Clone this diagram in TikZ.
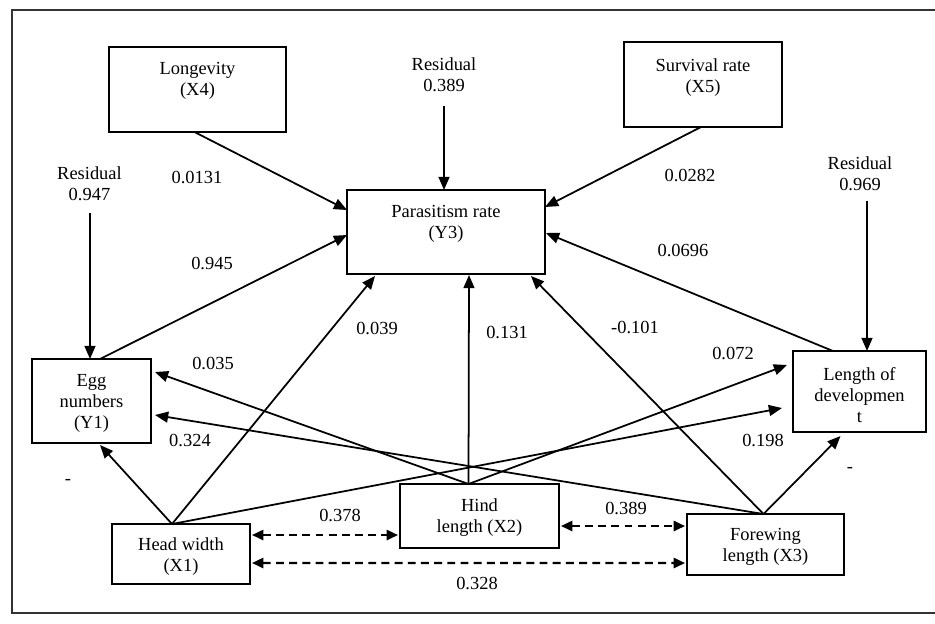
\documentclass[tikz,border=0pt]{standalone}
\usepackage{fontspec}
\setmainfont{Liberation Serif}
\usetikzlibrary{arrows.meta,calc}
\begin{document}
\begin{tikzpicture}[x=0.02cm,y=-0.02cm,
  box/.style={draw,line width=1pt,inner sep=0pt,outer sep=0pt},
  txt/.style={align=center,font=\fontsize{10.5}{12}\selectfont,inner sep=0pt},
  lbl/.style={font=\fontsize{10.5}{12}\selectfont,inner sep=0pt},
  arr/.style={line width=1pt,-{Triangle[length=7.5pt,width=6.2pt]}},
  darr/.style={line width=1.3pt,dash pattern=on 4.5pt off 3pt,{Triangle[length=6.5pt,width=5.8pt]}-{Triangle[length=6.5pt,width=5.8pt]}},
  frame/.style={line width=1.2pt,draw=black!80}]
\useasboundingbox (0,0) rectangle (935,623);
\draw[frame] (935,10) -- (12,10) -- (12,613) -- (935,613);

% boxes
\node[box,minimum width=3.54cm,minimum height=1.70cm] (x4) at (197.5,89.5) {};
\node[txt] (x4t) at (197.5,81) {Longevity\\(X4)};
\node[box,minimum width=3.16cm,minimum height=1.70cm] (x5) at (703,84.5) {};
\node[txt] (x5t) at (703,77.5) {Survival rate\\(X5)};
\node[box,minimum width=3.96cm,minimum height=1.68cm] (y3) at (446,232) {};
\node[txt] (y3t) at (446,223.5) {Parasitism rate\\(Y3)};
\node[box,minimum width=2.38cm,minimum height=1.68cm] (y1) at (91.5,401) {};
\node[txt] (y1t) at (91.5,403) {Egg\\numbers\\(Y1)};
\node[box,minimum width=2.66cm,minimum height=1.62cm] (y2) at (859.5,391.5) {};
\node[txt] (y2t) at (859.5,395) {Length of\\developmen\\t};
\node[box,minimum width=2.76cm,minimum height=1.20cm] (x1) at (181,554) {};
\node[txt] (x1t) at (181,556.5) {Head width\\(X1)};
\node[box,minimum width=3.18cm,minimum height=1.28cm] (x2) at (479.5,516) {};
\node[txt] (x2t) at (479.5,517.5) {Hind\\length (X2)};
\node[box,minimum width=3.14cm,minimum height=1.22cm] (x3) at (765.5,544.5) {};
\node[txt] (x3t) at (765.5,547) {Forewing\\length (X3)};

% residuals
\node[txt] (r3) at (444,75) {Residual\\0.389};
\node[txt] (r1) at (89.5,184) {Residual\\0.947};
\node[txt] (r2) at (860,174) {Residual\\0.969};
\coordinate (r3s) at (444,106);
\coordinate (r1s) at (90,213);
\coordinate (r2s) at (867,201);
\draw[arr] (r3s) -- (r3s |- y3.north);
\draw[arr] (r1s) -- (r1s |- y1.north);
\draw[arr] (r2s) -- (r2s |- y2.north);

% paths to Y3
\draw[arr] ($(x4.south)+(-3,0)$) -- ($(y3.west)+(0,-22)$);
\draw[arr] ($(x5.south)+(-2,0)$) -- ($(y3.east)+(0,-25)$);
\draw[arr] ($(y1.north)+(8.5,0)$) -- ($(y3.west)+(0,3)$);
\draw[arr] ($(y2.north)+(-26.5,0)$) -- ($(y3.east)+(1,1)$);

% from head width
\draw[arr] ($(x1.north)+(-9,0)$) -- ($(y1.south)+(8.5,2)$);
\draw[arr] ($(x1.north)+(-9,0)$) -- ($(y3.south)+(-71,2)$);
\draw[arr] ($(x1.north)+(-9,0)$) -- ($(y2.west)+(-11,16.5)$);
% from hind length
\draw[arr] ($(x2.north)+(-11,0)$) -- ($(y3.south)+(23,1)$);
\draw[arr] ($(x2.north)+(-11,0)$) -- ($(y1.east)+(4,-29)$);
\draw[arr] ($(x2.north)+(-11,0)$) -- ($(y2.west)+(-6,-26.5)$);
% from forewing length
\draw[arr] ($(x3.north)+(-2,0)$) -- ($(y1.east)+(4,14)$);
\draw[arr] ($(x3.north)+(-2,0)$) -- ($(y3.south)+(85,2)$);
\draw[arr] ($(x3.north)+(-2,0)$) -- ($(y2.south)+(-19,4)$);

% correlations
\draw[darr] ($(x1.east)+(2,-19)$) -- ($(x2.west)+(-2,19)$);
\draw[darr] ($(x2.east)+(2,10)$) -- ($(x3.west)+(-2,-18.5)$);
\draw[darr] ($(x1.east)+(2,9)$) -- ($(x3.west)+(-2,18.5)$);

% labels
\node[lbl] (l1) at (197,177) {0.0131};
\node[lbl] (l2) at (690,175) {0.0282};
\node[lbl] (l3) at (212,263) {0.945};
\node[lbl] (l4) at (683,250) {0.0696};
\node[lbl] (l5) at (377,328) {0.039};
\node[lbl] (l6) at (507,332) {0.131};
\node[lbl] (l7) at (635,327) {-0.101};
\node[lbl] (l8) at (213,363) {0.035};
\node[lbl] (l9) at (733,353) {0.072};
\node[lbl] (l10) at (190,440) {0.324};
\node[lbl] (l11) at (763,440) {0.198};
\node[lbl] (l12) at (340,515) {0.378};
\node[lbl] (l13) at (626,508) {0.389};
\node[lbl] (l14) at (477,583) {0.328};
\node[lbl] (m1) at (68,482) {-};
\node[lbl] (m2) at (850,470) {-};
\end{tikzpicture}
\end{document}
